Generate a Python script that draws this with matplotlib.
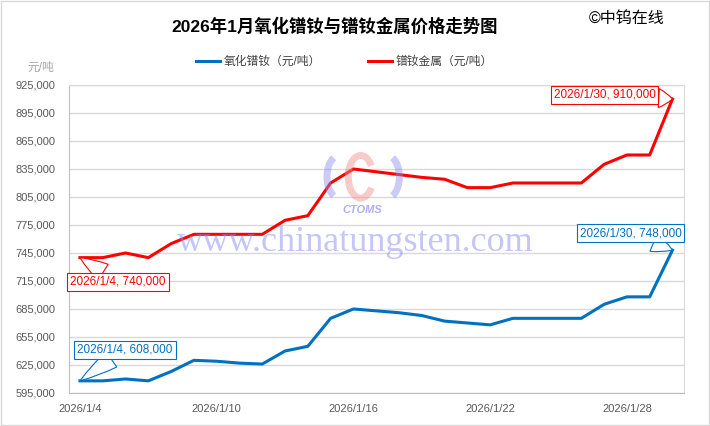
import matplotlib
matplotlib.use('Agg')
import matplotlib.pyplot as plt
import pandas as pd
from matplotlib.patches import Rectangle, Arc

plt.rcParams['font.family'] = ['Liberation Sans', 'Noto Sans CJK SC']

# daily quotes, January 2026
dates = ['2026-01-04', '2026-01-05', '2026-01-06', '2026-01-07', '2026-01-08',
         '2026-01-09', '2026-01-10', '2026-01-11', '2026-01-12', '2026-01-13',
         '2026-01-14', '2026-01-15', '2026-01-16', '2026-01-17', '2026-01-18',
         '2026-01-19', '2026-01-20', '2026-01-21', '2026-01-22', '2026-01-23',
         '2026-01-24', '2026-01-25', '2026-01-26', '2026-01-27', '2026-01-28',
         '2026-01-29', '2026-01-30']
oxide = [608000, 608000, 610000, 608000, 618000, 630000, 629000, 627000, 626000,
         640000, 645000, 675000, 685000, 683000, 681000, 678000, 672000, 670000,
         668000, 675000, 675000, 675000, 675000, 690000, 698000, 698000, 748000]
metal = [740000, 740000, 745000, 740000, 755000, 765000, 765000, 765000, 765000,
         780000, 785000, 820000, 835000, 832000, 829000, 826000, 824000, 815000,
         815000, 820000, 820000, 820000, 820000, 840000, 850000, 850000, 910000]
tick_dates = ['2026-01-04', '2026-01-10', '2026-01-16', '2026-01-22', '2026-01-28']
tick_labels = ['2026/1/4', '2026/1/10', '2026/1/16', '2026/1/22', '2026/1/28']
y_ticks = list(range(595000, 925001, 30000))

title = '2026年1月氧化镨钕与镨钕金属价格走势图'
oxide_name = '氧化镨钕（元/吨）'
metal_name = '镨钕金属（元/吨）'

BLUE = '#0070C0'
RED = '#FF0000'
GRID = '#d9d9d9'
TXT = '#595959'
WM = '#8c8cf0'

x = pd.to_datetime(dates)

fig = plt.figure(figsize=(7.1, 4.26), dpi=100)
ax = fig.add_axes([0.0972, 0.0775, 0.866, 0.723])

ax.plot(x, oxide, color=BLUE, lw=2.2, label=oxide_name, solid_joinstyle='round', zorder=3)
ax.plot(x, metal, color=RED, lw=2.2, label=metal_name, solid_joinstyle='round', zorder=3)

ax.set_ylim(595000, 925000)
ax.set_yticks(y_ticks)
ax.set_yticklabels([f'{v:,}' for v in y_ticks])
ax.set_xlim(x[0] - pd.Timedelta(hours=11.5), x[-1] + pd.Timedelta(hours=12))
ax.set_xticks(pd.to_datetime(tick_dates))
ax.set_xticklabels(tick_labels)
ax.grid(axis='y', color=GRID, lw=1)
ax.set_axisbelow(True)
ax.tick_params(axis='y', length=0, pad=10, labelsize=8, labelcolor=TXT)
ax.tick_params(axis='x', length=0, pad=8, labelsize=8, labelcolor=TXT)
for s in ['left', 'bottom']:
    ax.spines[s].set_color('#bfbfbf')
for s in ['top', 'right']:
    ax.spines[s].set_color(GRID)

# callouts at first and last points
def callout(i, vals, color, dx, dy):
    d = pd.Timestamp(dates[i])
    txt = f'{d.year}/{d.month}/{d.day}, {vals[i]:,}'
    ax.annotate(txt, xy=(x[i], vals[i]), xytext=(dx, dy), textcoords='offset pixels',
                ha='center', va='center', fontsize=8.5, color=color, zorder=5,
                bbox=dict(boxstyle='square,pad=0.25', fc='white', ec=color, lw=0.8),
                arrowprops=dict(arrowstyle='wedge,tail_width=1.6,shrink_factor=0.6',
                                fc='white', ec=color, lw=0.8, shrinkA=0, shrinkB=0))

callout(0, metal, RED, 38, -24)
callout(0, oxide, BLUE, 45, 31)
callout(len(dates) - 1, oxide, BLUE, -42, 17)
callout(len(dates) - 1, metal, RED, -68, 4)

# watermark: logo + site address
for cx, th1, th2, col in [(0.478, 100, 260, WM), (0.545, -80, 80, WM), (0.508, 60, 300, '#f08c8c')]:
    fig.patches.append(Arc((cx, 0.585), 0.035, 0.1, theta1=th1, theta2=th2,
                           transform=fig.transFigure, color=col, lw=5, alpha=0.45, zorder=10))
fig.text(0.511, 0.507, 'CTOMS', fontsize=8, fontweight='bold', style='italic',
         color=WM, alpha=0.7, ha='center', va='center', zorder=10)
fig.text(0.5, 0.43, 'www.chinatungsten.com', family='Liberation Serif', fontsize=26,
         color=WM, alpha=0.5, ha='center', va='center', zorder=10)

ax.legend(loc='center', bbox_to_anchor=(0.485, 0.854), bbox_transform=fig.transFigure,
          ncol=2, frameon=False, fontsize=8.5, handlelength=2, handletextpad=0.3,
          columnspacing=4, labelcolor='#404040')

fig.text(0.471, 0.94, title, fontsize=12.5, fontweight='bold', ha='center', va='center')
fig.text(0.882, 0.957, '©中钨在线', fontsize=11.5, ha='center', va='center')
fig.text(0.058, 0.84, '元/吨', fontsize=8.5, color='#a6a6a6', ha='center', va='center')

fig.patches.append(Rectangle((0.001, 0.002), 0.997, 0.995, transform=fig.transFigure,
                             fill=False, ec=GRID, lw=1))

fig.savefig('out.png', dpi=100)
